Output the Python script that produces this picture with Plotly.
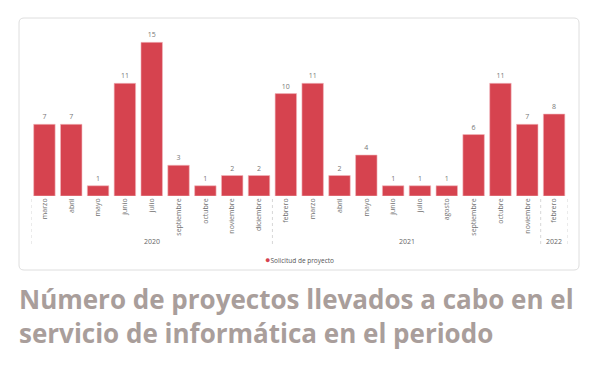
import plotly.graph_objects as go

# ---- data ----
years = ["2020"] * 9 + ["2021"] * 10 + ["2022"]
months = ["marzo", "abril", "mayo", "junio", "julio", "septiembre", "octubre", "noviembre", "diciembre",
          "febrero", "marzo", "abril", "mayo", "junio", "julio", "agosto", "septiembre", "octubre", "noviembre",
          "febrero"]
values = [7, 7, 1, 11, 15, 3, 1, 2, 2, 10, 11, 2, 4, 1, 1, 1, 6, 11, 7, 8]
series_name = "Solicitud de proyecto"
title_lines = ["Número de proyectos llevados a cabo en el",
               "servicio de informática en el periodo"]

# page body has an 8px default margin; figure fills the rest of the window
OFF = 8
W, H = 603 - OFF, 368 - OFF
BAR = "#D6434F"


def px_x(p):
    return (p - OFF) / W


def px_y(p):
    return 1 - (p - OFF) / H


idx = list(range(len(values)))

fig = go.Figure()
fig.add_trace(go.Bar(
    x=idx, y=values,
    marker=dict(color=BAR, line=dict(color="#F2B8BD", width=0.6)),
    text=values, textposition="outside",
    textfont=dict(size=7, color="#777777", family="Open Sans"),
    cliponaxis=False, showlegend=False, name=series_name,
))

# year groups: labels and dotted dividers derived from the data
groups = []
for i, y in enumerate(years):
    if groups and groups[-1][0] == y:
        groups[-1][2] = i
    else:
        groups.append([y, i, i])
bounds = sorted({g[1] - 0.5 for g in groups} | {g[2] + 0.5 for g in groups})
for b in bounds:
    fig.add_shape(type="line", xref="x", yref="paper", x0=b, x1=b,
                  y0=px_y(199), y1=px_y(247),
                  line=dict(color="#D8D8D8", width=1, dash="dot"))
for y, a, b in groups:
    fig.add_annotation(text=y, xref="x", yref="paper", x=(a + b) / 2, y=px_y(241),
                       showarrow=False, yanchor="middle",
                       font=dict(size=7, color="#666666", family="Open Sans"))

# legend entry (dot + series name)
fig.add_annotation(
    text=f"<span style='color:{BAR};font-size:9px'>●</span>{series_name}",
    xref="paper", yref="paper", x=px_x(263), y=px_y(259),
    xanchor="left", yanchor="middle", showarrow=False,
    font=dict(size=6.5, color="#555555", family="Open Sans"),
)

# card outline with rounded corners
x0, x1, y0, y1 = px_x(19), px_x(579), px_y(18), px_y(270)
rx, ry = 5 / W, 5 / H
path = (f"M {x0+rx},{y0} L {x1-rx},{y0} Q {x1},{y0} {x1},{y0-ry} "
        f"L {x1},{y1+ry} Q {x1},{y1} {x1-rx},{y1} L {x0+rx},{y1} "
        f"Q {x0},{y1} {x0},{y1+ry} L {x0},{y0-ry} Q {x0},{y0} {x0+rx},{y0} Z")
fig.add_shape(type="path", path=path, xref="paper", yref="paper",
              line=dict(color="#DEDEDE", width=1), fillcolor="rgba(0,0,0,0)", layer="below")

# two-line caption under the card
fig.add_annotation(
    text="<b>" + "<br>".join(title_lines) + "</b>",
    xref="paper", yref="paper", x=px_x(17), y=px_y(353),
    xanchor="left", yanchor="bottom", align="left", showarrow=False,
    font=dict(family="Open Sans", size=26, color="#A99E9B"),
)

fig.update_layout(
    width=W, height=H,
    margin=dict(l=0, r=0, t=0, b=0),
    paper_bgcolor="white", plot_bgcolor="white",
    bargap=0.2,
    showlegend=False,
    xaxis=dict(
        domain=[px_x(31), px_x(567.5)], range=[-0.5, len(values) - 0.5],
        tickmode="array", tickvals=idx, ticktext=months,
        tickangle=-90, tickfont=dict(size=7, color="#707070", family="Open Sans"),
        showline=False, ticks="", showgrid=False, zeroline=False, automargin=False,
    ),
    yaxis=dict(
        domain=[px_y(196), px_y(27)], range=[0, 16.5],
        visible=False, showgrid=False, zeroline=False,
    ),
)

fig.write_html("out.html")
